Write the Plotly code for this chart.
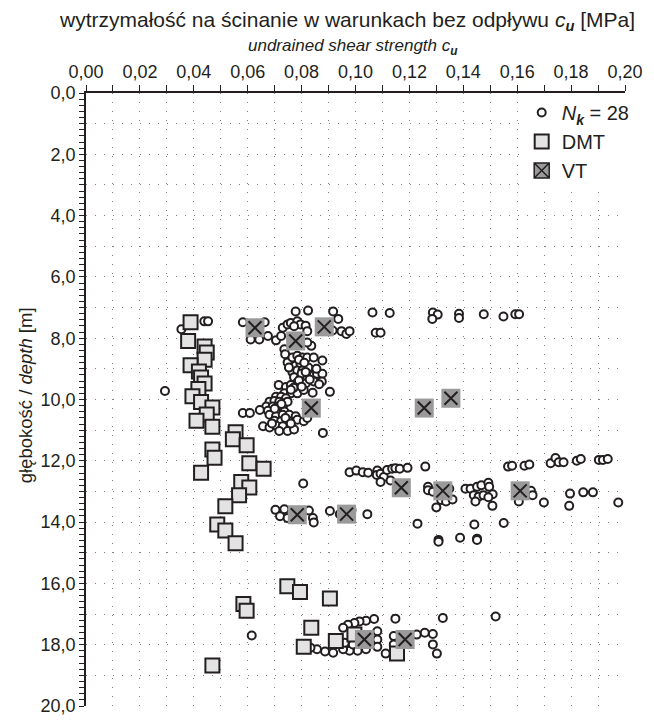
import plotly.graph_objects as go

# ---------------- data (cu in MPa, depth in m) ----------------
NK_CU = [
    # 7-8 m
    0.0439, 0.0453, 0.0354, 0.0582, 0.0663, 0.0611, 0.0643, 0.0675, 0.0705, 0.0724,
    0.0730, 0.0748, 0.0760, 0.0778, 0.0824, 0.0784, 0.0796, 0.0772, 0.0815, 0.0821,
    0.0917, 0.0936, 0.0915, 0.0948, 0.0966, 0.0978, 0.1063, 0.1127, 0.1075, 0.1093,
    0.1287, 0.1305, 0.1285, 0.1384, 0.1384, 0.1476, 0.1549, 0.1593, 0.1607,
    # 8-11 m
    0.0836, 0.0821, 0.0736, 0.0739, 0.0748, 0.0766, 0.0784, 0.0803, 0.0821, 0.0845,
    0.0877, 0.0778, 0.0796, 0.0766, 0.0784, 0.0803, 0.0772, 0.0796, 0.0821, 0.0845,
    0.0857, 0.0877, 0.0784, 0.0815, 0.0845, 0.0875, 0.0715, 0.0742, 0.0760, 0.0736,
    0.0760, 0.0784, 0.0808, 0.0841, 0.0905, 0.0705, 0.0724, 0.0742, 0.0681, 0.0699,
    0.0717, 0.0736, 0.0748, 0.0669, 0.0693, 0.0712, 0.0730, 0.0645, 0.0675, 0.0705,
    0.0736, 0.0582, 0.0608, 0.0681, 0.0705, 0.0730, 0.0754, 0.0778, 0.0699, 0.0724,
    0.0754, 0.0784, 0.0808, 0.0821, 0.0657, 0.0681, 0.0705, 0.0730, 0.0760, 0.0717,
    0.0748, 0.0772, 0.0879, 0.0293, 0.0753, 0.0825,
    0.0790, 0.0810, 0.0800, 0.0815, 0.0790, 0.0830, 0.0770, 0.0800, 0.0760, 0.0725,
    0.0700, 0.0740, 0.0760, 0.0690, 0.0855, 0.0865,
    # 12-14.6 m
    0.0978, 0.1003, 0.1027, 0.1047, 0.1081, 0.1079, 0.1093, 0.1105, 0.1093, 0.1130,
    0.1117, 0.1136, 0.1148, 0.1164, 0.1193, 0.1259, 0.1566, 0.1581, 0.1627, 0.1645,
    0.1724, 0.1742, 0.1754, 0.1772, 0.1821, 0.1836, 0.1903, 0.1918, 0.1936,
    0.1269, 0.1269, 0.1287, 0.1348, 0.1300, 0.1318, 0.1336, 0.1360, 0.1408, 0.1427,
    0.1451, 0.1467, 0.1493, 0.1496, 0.1509, 0.1439, 0.1457, 0.1475, 0.1493, 0.1445,
    0.1508, 0.1651, 0.1657, 0.1606, 0.1699, 0.1796, 0.1845, 0.1881, 0.1793, 0.1975,
    0.1230, 0.1441, 0.1550, 0.1308, 0.1308, 0.1388, 0.1451, 0.1451,
    0.0806, 0.0703, 0.0720, 0.0736, 0.0748, 0.0827, 0.0842, 0.0845,
    0.0905, 0.0942, 0.0985, 0.1044,
    # 17-18.3 m
    0.0615, 0.1324, 0.1148, 0.1069, 0.1039, 0.1015, 0.0996, 0.0972, 0.0954, 0.1081,
    0.1081, 0.1142, 0.1227, 0.1257, 0.1287, 0.1287, 0.1302, 0.1112, 0.1142, 0.1081,
    0.1039, 0.1008, 0.0978, 0.0954, 0.0917, 0.0887, 0.0857, 0.0833, 0.0960, 0.0990,
    0.1027, 0.1033, 0.0990, 0.1520,
]
NK_DEPTH = [
    # 7-8 m
    7.45, 7.45, 7.71, 7.48, 7.48, 8.04, 8.04, 7.93, 8.07, 7.93,
    7.66, 7.55, 7.50, 7.13, 7.10, 7.45, 7.55, 7.61, 7.59, 7.77,
    7.13, 7.37, 7.75, 7.77, 7.86, 7.77, 7.16, 7.18, 7.82, 7.82,
    7.16, 7.23, 7.37, 7.20, 7.34, 7.22, 7.29, 7.22, 7.22,
    # 8-11 m
    8.25, 8.14, 8.36, 8.52, 8.79, 8.63, 8.57, 8.63, 8.63, 8.63,
    8.73, 8.89, 8.84, 9.11, 9.05, 9.05, 9.27, 9.32, 9.27, 9.21,
    9.16, 9.16, 9.45, 9.48, 9.41, 9.41, 9.53, 9.59, 9.53, 9.80,
    9.80, 9.80, 9.69, 9.78, 9.75, 9.91, 9.91, 9.96, 10.07, 10.05,
    10.07, 10.12, 10.07, 10.23, 10.23, 10.23, 10.28, 10.34, 10.37, 10.39,
    10.39, 10.44, 10.44, 10.50, 10.55, 10.50, 10.50, 10.55, 10.69, 10.71,
    10.71, 10.66, 10.71, 10.60, 10.87, 10.91, 10.85, 10.87, 10.87, 11.03,
    11.03, 10.98, 11.09, 9.72, 8.96, 8.96,
    8.70, 8.80, 9.15, 9.10, 9.38, 9.35, 9.62, 9.58, 9.68, 10.15,
    10.30, 10.60, 10.78, 10.78, 9.00, 9.50,
    # 12-14.6 m
    12.37, 12.32, 12.37, 12.39, 12.32, 12.46, 12.42, 12.53, 12.69, 12.64,
    12.30, 12.26, 12.24, 12.26, 12.23, 12.19, 12.19, 12.16, 12.16, 12.12,
    12.08, 11.91, 12.05, 12.05, 12.00, 11.94, 11.97, 11.97, 11.94,
    12.85, 12.96, 13.01, 12.91, 13.52, 13.28, 13.33, 13.26, 12.91, 12.91,
    12.85, 12.80, 12.72, 12.85, 13.09, 13.12, 13.17, 13.12, 13.19, 13.33,
    13.47, 12.98, 13.12, 13.33, 13.36, 13.07, 13.03, 13.03, 13.47, 13.36,
    14.05, 14.08, 14.03, 14.58, 14.64, 14.51, 14.54, 14.58,
    12.74, 13.60, 13.81, 13.58, 13.87, 13.62, 13.87, 14.01,
    13.64, 13.74, 13.61, 13.74,
    # 17-18.3 m
    17.70, 17.13, 17.15, 17.16, 17.22, 17.24, 17.29, 17.35, 17.45, 17.56,
    17.83, 17.72, 17.67, 17.61, 17.65, 17.99, 18.29, 18.29, 17.99, 18.07,
    18.15, 18.20, 18.20, 18.15, 18.26, 18.22, 18.15, 18.10, 17.94, 17.99,
    17.83, 17.72, 17.56, 17.08,
]

DMT_CU = [
    0.0388, 0.0379, 0.0440, 0.0448, 0.0440, 0.0388, 0.0419, 0.0427, 0.0440, 0.0417,
    0.0395, 0.0427, 0.0469, 0.0448, 0.0410, 0.0469, 0.0555, 0.0545, 0.0596, 0.0469,
    0.0477, 0.0606, 0.0659, 0.0427, 0.0576, 0.0606, 0.0568, 0.0517, 0.0487, 0.0517,
    0.0555, 0.0747, 0.0794, 0.0905, 0.0584, 0.0596, 0.0836, 0.0927, 0.0808, 0.0996,
    0.1154, 0.0469,
]
DMT_DEPTH = [
    7.48, 8.09, 8.27, 8.47, 8.70, 8.88, 9.09, 9.28, 9.48, 9.66,
    9.89, 10.08, 10.26, 10.49, 10.69, 10.89, 11.07, 11.30, 11.49, 11.63,
    11.90, 12.08, 12.26, 12.39, 12.69, 12.87, 13.12, 13.48, 14.08, 14.27,
    14.69, 16.09, 16.28, 16.49, 16.67, 16.89, 17.45, 17.88, 18.07, 17.67,
    18.29, 18.68,
]

VT_CU = [0.0627, 0.0778, 0.0884, 0.0836, 0.1255, 0.1354, 0.1170, 0.1324, 0.1611,
         0.0784, 0.0967, 0.1033, 0.1184]
VT_DEPTH = [7.66, 8.09, 7.63, 10.28, 10.28, 9.96, 12.88, 12.98, 12.98,
            13.76, 13.74, 17.83, 17.83]

X_TICK_VALUES = [0.00, 0.02, 0.04, 0.06, 0.08, 0.10, 0.12, 0.14, 0.16, 0.18, 0.20]
X_TICK_LABELS = ["0,00", "0,02", "0,04", "0,06", "0,08", "0,10", "0,12", "0,14",
                 "0,16", "0,18", "0,20"]
Y_TICK_VALUES = list(range(0, 21))
Y_TICK_LABELS = ["0,0", "", "2,0", "", "4,0", "", "6,0", "", "8,0", "", "10,0", "",
                 "12,0", "", "14,0", "", "16,0", "", "18,0", "", "20,0"]

INK = "#231f20"
FONT = "Liberation Sans, Arial, sans-serif"
DOTS = "1px,8px"
GRIDC = "#808080"

fig = go.Figure()

fig.add_trace(go.Scatter(
    x=NK_CU, y=NK_DEPTH, mode="markers",
    name="<i>N<sub><b>k</b></sub></i> = 28",
    marker=dict(symbol="circle", size=8, color="white",
                line=dict(color=INK, width=2)),
))
fig.add_trace(go.Scatter(
    x=DMT_CU, y=DMT_DEPTH, mode="markers", name="DMT",
    marker=dict(symbol="square", size=14, color="#e3e3e3",
                line=dict(color=INK, width=2)),
))
# legend entry for VT (hidden beneath the gray squares)
fig.add_trace(go.Scatter(
    x=VT_CU, y=VT_DEPTH, mode="markers", name="VT",
    marker=dict(symbol="square-x", size=15, color="#9a9a9a",
                line=dict(color=INK, width=1.5)),
))
fig.add_trace(go.Scatter(
    x=VT_CU, y=VT_DEPTH, mode="markers", showlegend=False, hoverinfo="skip",
    marker=dict(symbol="square", size=19, color="#9a9a9a", line=dict(width=0)),
))
fig.add_trace(go.Scatter(
    x=VT_CU, y=VT_DEPTH, mode="markers", showlegend=False,
    marker=dict(symbol="x-thin", size=13, color=INK,
                line=dict(color=INK, width=2)),
))

fig.update_layout(
    width=654, height=727,
    margin=dict(l=86, r=18, t=93, b=11),
    paper_bgcolor="white", plot_bgcolor="white",
    font=dict(family=FONT, size=18, color=INK),
    separators=", ",
    legend=dict(x=1.018, xanchor="right", y=1, yanchor="top", bgcolor="white",
                font=dict(size=20, color=INK), tracegroupgap=0,
                borderwidth=0),
    xaxis=dict(
        side="top", range=[0, 0.2], tickvals=X_TICK_VALUES, ticktext=X_TICK_LABELS,
        showline=True, linecolor=INK, linewidth=1.5, ticks="outside", ticklen=6,
        tickwidth=1.2, tickcolor=INK, showgrid=True, gridcolor=GRIDC, griddash=DOTS,
        gridwidth=1, zeroline=False,
        minor=dict(dtick=0.01, ticks="outside", ticklen=6, tickwidth=1.2,
                   tickcolor=INK, showgrid=True, gridcolor=GRIDC, griddash=DOTS),
        tickfont=dict(size=18),
    ),
    yaxis=dict(
        range=[20, 0], tickvals=Y_TICK_VALUES, ticktext=Y_TICK_LABELS,
        showline=True, linecolor=INK, linewidth=1.5, ticks="outside", ticklen=5,
        tickwidth=1.2, tickcolor=INK, showgrid=True, gridcolor=GRIDC, griddash=DOTS,
        gridwidth=1, zeroline=False,
        minor=dict(dtick=0.2, ticks="outside", ticklen=5, tickwidth=1.2,
                   tickcolor=INK, showgrid=False),
        tickfont=dict(size=18),
    ),
    annotations=[
        dict(text="wytrzymałość na ścinanie w warunkach bez odpływu <i>c<sub><b>u</b></sub></i> [MPa]",
             xref="paper", yref="paper", x=0.484, y=1.117, showarrow=False,
             font=dict(size=21), xanchor="center", yanchor="middle"),
        dict(text="<i>undrained shear strength c<sub><b>u</b></sub></i>",
             xref="paper", yref="paper", x=0.495, y=1.075, showarrow=False,
             font=dict(size=17), xanchor="center", yanchor="middle"),
        dict(text="głębokość / <i>depth</i> [m]", textangle=-90,
             xref="paper", yref="paper", x=-0.113, y=0.507, showarrow=False,
             font=dict(size=18.5), xanchor="center", yanchor="middle"),
    ],
)

fig.write_html("out.html")
